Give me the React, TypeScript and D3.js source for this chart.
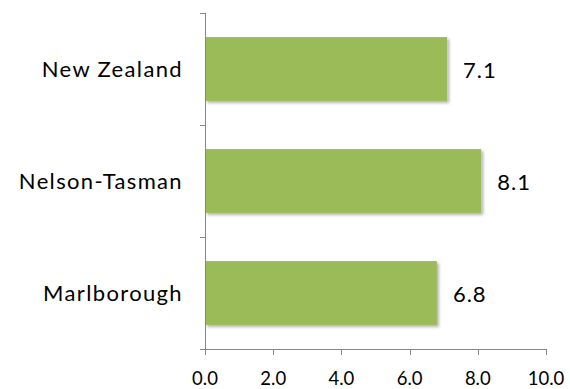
import React, { useRef, useEffect } from "react";
import * as d3 from "d3";

const regions = ["New Zealand", "Nelson-Tasman", "Marlborough"];
const values = [7.1, 8.1, 6.8];
const xTicks = [0, 2, 4, 6, 8, 10];

export default function App() {
  const svgRef = useRef<SVGSVGElement>(null);

  useEffect(() => {
    const svg = d3.select(svgRef.current);
    svg.selectAll("*").remove();

    const left = 205,
      right = 546,
      top = 13,
      bottom = 349;

    const x = d3.scaleLinear().domain([0, 10]).range([left, right]);
    const y = d3.scaleBand().domain(regions).range([top, bottom]).paddingInner(0.43).paddingOuter(0.215);

    const defs = svg.append("defs");
    const f = defs
      .append("filter")
      .attr("id", "shadow")
      .attr("x", "-5%")
      .attr("y", "-10%")
      .attr("width", "115%")
      .attr("height", "130%");
    f.append("feDropShadow")
      .attr("dx", 2)
      .attr("dy", 2)
      .attr("stdDeviation", 1.5)
      .attr("flood-color", "#000")
      .attr("flood-opacity", 0.3);

    const axisColor = "#868686";
    const font = "Lato, 'Open Sans', sans-serif";

    // bars
    svg
      .append("g")
      .selectAll("rect")
      .data(values)
      .join("rect")
      .attr("x", x(0))
      .attr("y", (d, i) => y(regions[i])!)
      .attr("width", (d) => x(d) - x(0))
      .attr("height", y.bandwidth())
      .attr("fill", "#9BBB59")
      .attr("filter", "url(#shadow)");

    // value labels
    svg
      .append("g")
      .selectAll("text")
      .data(values)
      .join("text")
      .attr("x", (d) => x(d) + 16)
      .attr("y", (d, i) => y(regions[i])! + y.bandwidth() / 2)
      .attr("dy", "0.42em")
      .style("font", `22px ${font}`)
      .style("letter-spacing", "1px")
      .attr("fill", "#000")
      .text((d) => d.toFixed(1));

    // y axis
    const yAxis = svg.append("g");
    yAxis
      .append("line")
      .attr("x1", left + 0.5)
      .attr("x2", left + 0.5)
      .attr("y1", top)
      .attr("y2", bottom)
      .attr("stroke", axisColor);
    const yTickPos = [top, ...regions.map((r) => y(r)! + y.bandwidth() / 2 + y.step() / 2)];
    yAxis
      .selectAll("line.tick")
      .data(yTickPos)
      .join("line")
      .attr("class", "tick")
      .attr("x1", left - 5)
      .attr("x2", left + 0.5)
      .attr("y1", (d) => Math.round(d) + 0.5)
      .attr("y2", (d) => Math.round(d) + 0.5)
      .attr("stroke", axisColor);
    yAxis
      .selectAll("text")
      .data(regions)
      .join("text")
      .attr("x", left - 22)
      .attr("y", (d) => y(d)! + y.bandwidth() / 2)
      .attr("dy", "0.36em")
      .attr("text-anchor", "end")
      .style("font", `22px ${font}`)
      .style("letter-spacing", "1.35px")
      .attr("fill", "#000")
      .text((d) => d);

    // x axis
    const xAxis = svg.append("g");
    xAxis
      .append("line")
      .attr("x1", left)
      .attr("x2", right)
      .attr("y1", bottom + 0.5)
      .attr("y2", bottom + 0.5)
      .attr("stroke", axisColor);
    xAxis
      .selectAll("line.tick")
      .data(xTicks)
      .join("line")
      .attr("class", "tick")
      .attr("x1", (d) => Math.round(x(d)) + 0.5)
      .attr("x2", (d) => Math.round(x(d)) + 0.5)
      .attr("y1", bottom)
      .attr("y2", bottom + 6)
      .attr("stroke", axisColor);
    xAxis
      .selectAll("text")
      .data(xTicks)
      .join("text")
      .attr("x", (d) => x(d))
      .attr("y", 385)
      .attr("text-anchor", "middle")
      .style("font", `18.5px ${font}`)
      .attr("fill", "#000")
      .text((d) => d.toFixed(1));
  }, []);

  return (
    <svg
      ref={svgRef}
      width={570}
      height={389}
      style={{ position: "absolute", left: 0, top: 0, background: "#fff" }}
    ></svg>
  );
}
